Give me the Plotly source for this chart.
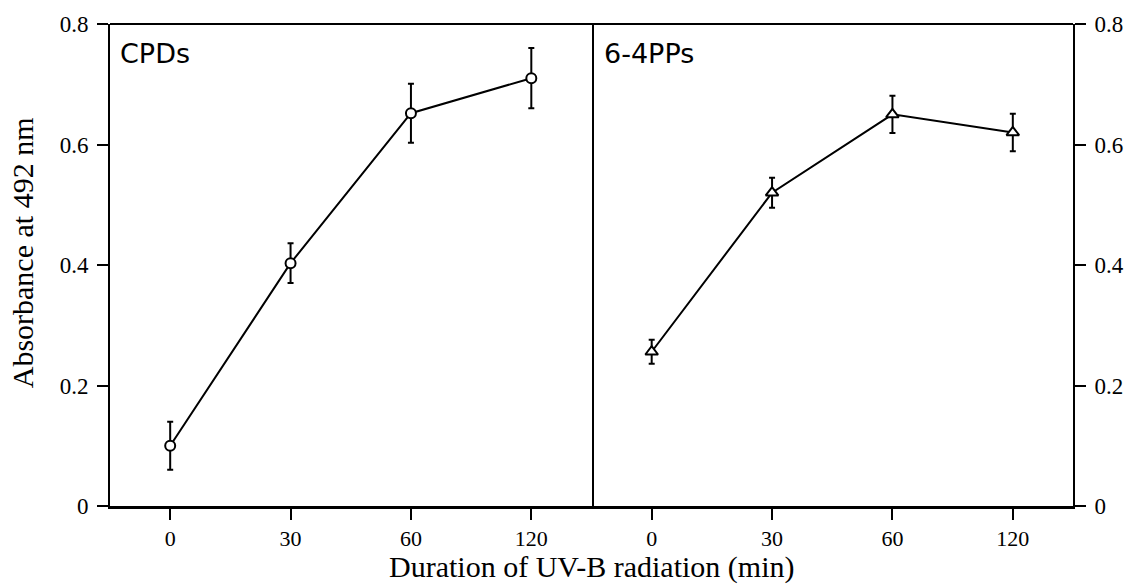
import plotly.graph_objects as go

DOSES = ["0", "30", "60", "120"]

CPD_MEAN = [0.100, 0.403, 0.652, 0.710]
CPD_ERR = [0.040, 0.033, 0.049, 0.050]

PP64_MEAN = [0.256, 0.520, 0.650, 0.620]
PP64_ERR = [0.020, 0.025, 0.031, 0.031]

Y_TICKS = [0, 0.2, 0.4, 0.6, 0.8]
Y_TICK_TEXT = ["0", "0.2", "0.4", "0.6", "0.8"]

BLACK = "#000000"
SERIF = "Liberation Serif, Times New Roman, serif"
SANS = "DejaVu Sans, sans-serif"

fig = go.Figure()

# CPDs — open circles, left panel
fig.add_trace(go.Scatter(
    x=DOSES, y=CPD_MEAN, xaxis="x", yaxis="y",
    mode="lines+markers",
    line=dict(color=BLACK, width=2),
    marker=dict(symbol="circle", size=10, color="white", line=dict(color=BLACK, width=2)),
    error_y=dict(type="data", array=CPD_ERR, color=BLACK, thickness=2, width=3),
    showlegend=False,
))

# 6-4PPs — open triangles, right panel
fig.add_trace(go.Scatter(
    x=DOSES, y=PP64_MEAN, xaxis="x2", yaxis="y2",
    mode="lines+markers",
    line=dict(color=BLACK, width=2),
    marker=dict(symbol="triangle-up", size=11, color="white", line=dict(color=BLACK, width=2)),
    error_y=dict(type="data", array=PP64_ERR, color=BLACK, thickness=2, width=3),
    showlegend=False,
))

x_common = dict(
    type="category", range=[-0.5, 3.5], automargin=False,
    showline=True, linecolor=BLACK, linewidth=3, mirror=False,
    ticks="outside", ticklen=11, tickwidth=2, tickcolor=BLACK,
    showgrid=False, zeroline=False, ticklabelstandoff=0,
    tickfont=dict(family=SERIF, size=22, color=BLACK),
)
y_common = dict(
    range=[0, 0.8], tickvals=Y_TICKS, ticktext=Y_TICK_TEXT, automargin=False,
    showline=True, linecolor=BLACK, linewidth=2,
    ticks="outside", ticklen=11, tickwidth=2, tickcolor=BLACK,
    showgrid=False, zeroline=False, ticklabelstandoff=4,
    tickfont=dict(family=SERIF, size=23, color=BLACK),
)

fig.update_layout(
    width=1125, height=588,
    paper_bgcolor="white", plot_bgcolor="white",
    margin=dict(l=110, r=52, t=24, b=82, autoexpand=False),
    xaxis=dict(domain=[0, 0.5], anchor="y", **x_common),
    xaxis2=dict(domain=[0.5, 1], anchor="y2", **x_common),
    yaxis=dict(anchor="x", side="left", mirror=True, **y_common),
    yaxis2=dict(anchor="x2", side="right", mirror=False, **y_common),
    shapes=[
        # top border across both panels
        dict(type="line", xref="paper", yref="paper", x0=0, x1=1, y0=1, y1=1,
             line=dict(color=BLACK, width=2)),
    ],
    annotations=[
        dict(text="CPDs", xref="paper", yref="paper", x=0.008, y=0.938,
             xanchor="left", yanchor="middle", showarrow=False,
             font=dict(family=SANS, size=27, color=BLACK)),
        dict(text="6-4PPs", xref="paper", yref="paper", x=0.511, y=0.938,
             xanchor="left", yanchor="middle", showarrow=False,
             font=dict(family=SANS, size=27, color=BLACK)),
        dict(text="Duration of UV-B radiation (min)", xref="paper", yref="paper",
             x=0.5, y=-0.127, xanchor="center", yanchor="middle", showarrow=False,
             font=dict(family=SERIF, size=30, color=BLACK)),
        dict(text="Absorbance at 492 nm", xref="paper", yref="paper",
             x=-0.09, y=0.525, xanchor="center", yanchor="middle", textangle=-90,
             showarrow=False, font=dict(family=SERIF, size=30, color=BLACK)),
    ],
)

# drop the default page margin so the figure sits at the window's corner
fig.write_html(
    "out.html",
    config={"displayModeBar": False},
    post_script="document.body.style.margin='0';",
)
